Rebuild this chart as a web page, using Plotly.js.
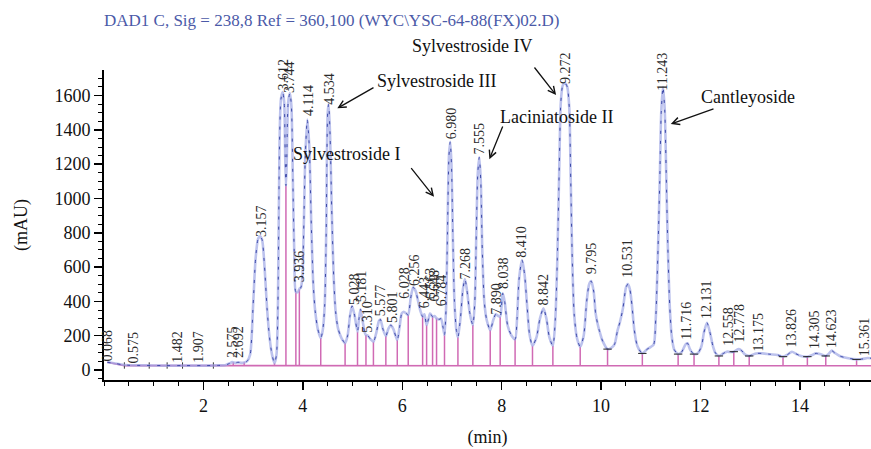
<!DOCTYPE html>
<html><head><meta charset="utf-8">
<script src="https://cdn.plot.ly/plotly-3.0.1.min.js"></script>
<style>html,body{margin:0;padding:0;background:#fff}#chart{width:871px;height:449px}</style>
</head><body><div id="chart"></div>
<script>
// Chromatogram signal (time in min, signal in mAU)
const signalTime = [0.068,0.2,0.35,0.5,0.8,1.2,1.6,2.0,2.3,2.45,2.52,2.58,2.64,2.70,2.76,2.82,2.88,2.94,3.00,3.05,3.10,3.14,3.18,3.23,3.28,3.33,3.38,3.43,3.47,3.50,3.53,3.56,3.595,3.625,3.645,3.66,3.675,3.705,3.74,3.77,3.80,3.83,3.86,3.90,3.935,3.96,3.99,4.02,4.05,4.09,4.13,4.17,4.21,4.25,4.30,4.36,4.40,4.44,4.47,4.50,4.52,4.55,4.58,4.62,4.66,4.71,4.78,4.85,4.90,4.95,4.99,5.04,5.10,5.13,5.16,5.20,5.25,5.27,5.31,5.36,5.42,5.48,5.53,5.56,5.61,5.67,5.72,5.77,5.82,5.90,5.95,5.99,6.03,6.08,6.12,6.17,6.22,6.27,6.32,6.37,6.41,6.445,6.49,6.53,6.56,6.61,6.65,6.69,6.74,6.78,6.82,6.85,6.88,6.91,6.94,6.965,6.99,7.02,7.05,7.09,7.12,7.17,7.22,7.26,7.30,7.36,7.42,7.46,7.49,7.52,7.55,7.58,7.61,7.65,7.70,7.77,7.83,7.88,7.93,7.97,8.02,8.06,8.12,8.20,8.27,8.31,8.35,8.41,8.46,8.51,8.56,8.62,8.70,8.77,8.84,8.90,8.96,9.03,9.08,9.12,9.16,9.19,9.23,9.275,9.32,9.36,9.39,9.42,9.46,9.52,9.58,9.65,9.71,9.76,9.80,9.85,9.89,9.93,9.97,10.03,10.13,10.20,10.27,10.33,10.38,10.44,10.50,10.54,10.58,10.62,10.67,10.73,10.83,10.92,11.00,11.06,11.10,11.14,11.18,11.21,11.245,11.28,11.31,11.34,11.38,11.42,11.47,11.55,11.62,11.70,11.74,11.79,11.87,11.95,12.02,12.07,12.13,12.19,12.25,12.30,12.37,12.45,12.53,12.60,12.67,12.76,12.82,12.90,12.98,13.05,13.12,13.25,13.40,13.55,13.66,13.75,13.84,13.92,14.02,14.15,14.25,14.32,14.42,14.52,14.58,14.64,14.70,14.80,14.95,15.14,15.25,15.36,15.45];
const signalValue = [45,40,32,28,27,26,26,26,27,30,38,46,42,45,42,44,52,90,380,650,765,780,760,600,360,190,90,40,90,400,1300,1580,1620,1560,1250,1075,1200,1560,1615,1540,1100,650,455,455,475,480,540,850,1250,1460,1300,850,500,340,240,187,230,380,800,1500,1550,1350,950,550,340,240,185,157,200,320,373,320,223,300,354,290,215,204,200,180,165,220,285,295,240,198,240,262,240,175,260,330,340,330,321,420,482,460,400,340,311,325,262,300,330,311,315,301,295,300,250,204,350,800,1250,1330,1200,750,400,230,191,300,470,531,470,330,262,400,800,1150,1240,1100,700,400,290,233,290,325,315,311,447,400,260,200,179,300,530,641,560,380,210,142,190,300,360,300,190,142,300,650,1200,1560,1660,1672,1650,1530,1100,650,320,180,136,200,400,500,519,460,330,270,225,170,122,128,150,230,280,360,480,501,470,380,230,140,97,120,135,150,300,650,1100,1500,1650,1520,1150,750,380,200,120,93,105,150,156,120,93,100,140,220,276,220,140,100,82,95,107,105,107,122,115,90,82,90,97,97,92,88,78,90,107,95,82,78,88,97,92,82,95,113,100,82,70,62,64,70,68];

// Peak retention-time labels and the level their text starts at
const peakLabels = ['0.068','0.575','1.482','1.907','2.575','2.692','3.157','3.612','3.744','3.936','4.114','4.534','5.028','5.181','5.310','5.577','5.801','6.028','6.256','6.443','6.563','6.648','6.784','6.980','7.268','7.555','7.890','8.038','8.410','8.842','9.272','9.795','10.531','11.243','11.716','12.131','12.558','12.778','13.175','13.826','14.305','14.623','15.361'];
const peakLabelBase = [58,41,47,47,76,76,781,1633,1621,515,1487,1555,385,398,223,321,282,420,496,367,420,408,379,1351,535,1259,330,476,661,379,1672,564,544,1633,185,301,146,165,117,136,126,136,87];

// Integration drop lines (time, top of line) and baseline
const dropTimes = [2.60,2.82,3.43,3.66,3.86,3.93,4.36,4.85,5.10,5.27,5.42,5.67,5.90,6.12,6.41,6.49,6.61,6.69,6.85,7.12,7.42,7.77,7.97,8.27,8.62,9.03,9.58,10.13,10.83,11.55,11.87,12.37,12.67,12.98,13.66,14.15,14.52,15.14];
const dropTops = [45,45,40,1075,455,470,187,157,223,204,165,198,175,321,311,262,311,301,204,191,262,233,311,179,142,142,136,122,97,93,93,82,107,82,78,78,82,62];
const baselineLevel = 25;
const baselineTime = [0.068, 0.41, 15.45];
const baselineValue = [45, 26, 25];
const eventTimes = [0.41, 0.91, 1.27, 1.58, 2.20];

// Compound annotations
const compoundNames = ['Sylvestroside III','Sylvestroside IV','Laciniatoside II','Sylvestroside I','Cantleyoside'];
const compoundArrowTime = [4.694, 9.095, 7.753, 6.640, 11.402];
const compoundArrowValue = [1526, 1603, 1229, 1010, 1434];

const titleText = 'DAD1 C, Sig = 238,8 Ref = 360,100 (WYC\\YSC-64-88(FX)02.D)';
const xTickVals = [2,4,6,8,10,12,14];
const yTickVals = [0,200,400,600,800,1000,1200,1400,1600];

const FONT = 'Liberation Serif, Times New Roman, serif';

// layout geometry (pixels)
const L = 104, R = 871, T = 70, B = 380;
const W = R - L, H = B - T;
const XMAX = 15.43, YMIN = -58, YMAX = 1749;
const px2paperX = p => (p - L) / W;
const px2paperY = p => (B - p) / H;

// drop lines
const dx = [], dy = [];
dropTimes.forEach((t, i) => { dx.push(t, t, null); dy.push(baselineLevel, dropTops[i], null); });
const ex = [], ey = [];
eventTimes.forEach(t => { ex.push(t, t, null); ey.push(8, 45, null); });
const tickT = [], tickV = [];
dropTimes.forEach((t, i) => { if (t >= 10.1) { tickT.push(t); tickV.push(dropTops[i]); } });

const traces = [
  {x: baselineTime, y: baselineValue, mode: 'lines', line: {color: '#d06ab4', width: 1.6}, hoverinfo: 'skip'},
  {x: dx, y: dy, mode: 'lines', line: {color: '#d06ab4', width: 1.5}, hoverinfo: 'skip'},
  {x: ex, y: ey, mode: 'lines', line: {color: '#333', width: 1}, hoverinfo: 'skip'},
  {x: signalTime, y: signalValue, mode: 'lines', line: {color: 'rgba(160,168,230,0.7)', width: 2.6, shape: 'spline', smoothing: 0.7}},
  {x: signalTime, y: signalValue, mode: 'lines', line: {color: '#3d4aa8', width: 1, dash: '3px,7px', shape: 'spline', smoothing: 0.7}},
  {x: tickT, y: tickV, mode: 'markers', marker: {symbol: 'line-ew', size: 6, line: {color: '#222', width: 1}}, hoverinfo: 'skip'}
];

const annotations = [];
peakLabels.forEach((lab, i) => {
  const t = parseFloat(lab);
  annotations.push({x: t, y: peakLabelBase[i], xref: 'x', yref: 'y', text: lab, showarrow: false,
    textangle: -90, xanchor: 'center', yanchor: 'bottom', yshift: -2, xshift: t > 15 ? -3 : 0, borderpad: 0,
    font: {family: FONT, size: 14, color: '#2a2a2a'}});
});
const textPos = [[375, 81], [410, 46], [498, 117], [291, 154], [699, 97]];
const arrowTail = [[375, 86.7], [533.3, 66], [503.3, 125], [410, 166.7], [715, 108.3]];
compoundNames.forEach((name, i) => {
  annotations.push({x: px2paperX(textPos[i][0]), y: px2paperY(textPos[i][1]), xref: 'paper', yref: 'paper',
    text: name, showarrow: false, xanchor: 'left', yanchor: 'middle',
    font: {family: FONT, size: 18, color: '#111'}});
  const hx = L + compoundArrowTime[i] * (W / XMAX);
  const hy = B - (compoundArrowValue[i] - YMIN) * (H / (YMAX - YMIN));
  annotations.push({x: compoundArrowTime[i], y: compoundArrowValue[i], xref: 'x', yref: 'y', text: '',
    showarrow: true, arrowhead: 5, arrowsize: 1.1, arrowwidth: 1.3, arrowcolor: '#111', standoff: 0,
    ax: arrowTail[i][0] - hx, ay: arrowTail[i][1] - hy});
});

const layout = {
  width: 871, height: 449,
  margin: {l: L, r: 0, t: T, b: 449 - B, pad: 0},
  paper_bgcolor: '#fff', plot_bgcolor: '#fff',
  showlegend: false,
  font: {family: FONT, color: '#111'},
  title: {text: titleText, x: L / 871, xref: 'container', xanchor: 'left', y: 1 - 20 / 449, yref: 'container', yanchor: 'middle',
    font: {family: FONT, size: 17, color: '#4b5aa8'}},
  xaxis: {range: [0, XMAX], tickmode: 'array', tickvals: xTickVals, ticks: 'outside', ticklen: 8, tickwidth: 1.5,
    tickcolor: '#000', showline: true, linewidth: 2, linecolor: '#000', showgrid: false, zeroline: false,
    minor: {dtick: 0.5, tick0: 0, ticks: 'outside', ticklen: 4, tickwidth: 1, tickcolor: '#000', showgrid: false},
    tickfont: {family: FONT, size: 18, color: '#111'},
    title: {text: '(min)', standoff: 16, font: {family: FONT, size: 18, color: '#111'}}},
  yaxis: {range: [YMIN, YMAX], tickmode: 'array', tickvals: yTickVals, ticks: 'outside', ticklen: 8, tickwidth: 1.5,
    tickcolor: '#000', showline: true, linewidth: 2, linecolor: '#000', showgrid: false, zeroline: false,
    minor: {dtick: 50, tick0: 0, ticks: 'outside', ticklen: 4, tickwidth: 1, tickcolor: '#000', showgrid: false},
    tickfont: {family: FONT, size: 18, color: '#111'},
    title: {text: '(mAU)', standoff: 22, font: {family: FONT, size: 18, color: '#111'}}},
  annotations: annotations
};

Plotly.newPlot('chart', traces, layout, {displayModeBar: false, staticPlot: true});
</script>
</body></html>
